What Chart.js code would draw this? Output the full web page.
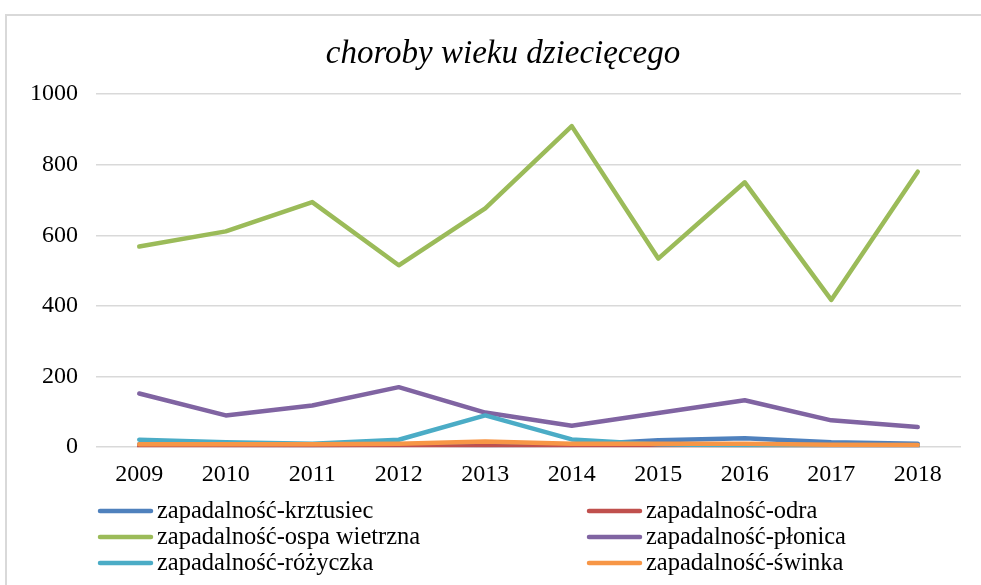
<!DOCTYPE html>
<html>
<head>
<meta charset="utf-8">
<script src="https://cdn.jsdelivr.net/npm/chart.js@4"></script>
<style>
  html, body { margin: 0; padding: 0; background: #fff; overflow: hidden; }
  #frame { position: absolute; left: 5px; top: 14px; width: 1010px; height: 600px; border: 2px solid #d9d9d9; }
  #wrap { position: absolute; left: 0; top: 0; width: 1006px; height: 585px; }
</style>
</head>
<body>
<div id="frame"></div>
<div id="wrap"><canvas id="chart" width="1006" height="585"></canvas></div>
<script>
const chartTitle = 'choroby wieku dziecięcego';
const years = ['2009', '2010', '2011', '2012', '2013', '2014', '2015', '2016', '2017', '2018'];
const krztusiec = [8, 6, 5, 8, 5, 6, 20, 25, 14, 10];
const odra = [1, 0.5, 1, 0.5, 3, 0.5, 0.5, 0.5, 0.5, 0.3];
const ospa = [568, 611, 694, 515, 676, 909, 534, 750, 417, 780];
const plonica = [152, 90, 118, 170, 98, 61, 97, 133, 76, 57];
const rozyczka = [21, 14, 10, 21, 90, 22, 8, 5, 4, 3];
const swinka = [8, 8, 8, 10, 16, 10, 10, 10, 7, 6];
const yTicks = [0, 200, 400, 600, 800, 1000];

const serif = '"Liberation Serif", "Times New Roman", serif';

function series(label, data, color, order) {
  return {
    label: label,
    data: data,
    borderColor: color,
    backgroundColor: color,
    borderWidth: 4.5,
    pointRadius: 0,
    tension: 0,
    borderCapStyle: 'round',
    borderJoinStyle: 'round',
    order: order,
  };
}

// title centred on the whole chart frame, not on the plot
const frameTitle = {
  id: 'frameTitle',
  afterDraw(chart) {
    const ctx = chart.ctx;
    ctx.save();
    ctx.font = 'italic 33px ' + serif;
    ctx.fillStyle = '#000';
    ctx.textAlign = 'center';
    ctx.textBaseline = 'middle';
    ctx.fillText(chartTitle, 503, 54);
    ctx.restore();
  },
};

// two-column legend under the plot, like the spreadsheet one
const gridLegend = {
  id: 'gridLegend',
  afterDraw(chart) {
    const ctx = chart.ctx;
    const cols = [98, 587];
    const rows = [511, 537, 563];
    ctx.save();
    ctx.font = '24.5px ' + serif;
    ctx.textBaseline = 'middle';
    chart.data.datasets.forEach((ds, i) => {
      const x = cols[i % 2];
      const y = rows[Math.floor(i / 2)];
      ctx.strokeStyle = ds.borderColor;
      ctx.lineWidth = 4.5;
      ctx.lineCap = 'round';
      ctx.beginPath();
      ctx.moveTo(x + 2, y);
      ctx.lineTo(x + 53, y);
      ctx.stroke();
      ctx.fillStyle = '#000';
      ctx.fillText(ds.label, x + 59, y + 1);
    });
    ctx.restore();
  },
};

new Chart(document.getElementById('chart'), {
  type: 'line',
  data: {
    labels: years,
    datasets: [
      series('zapadalność-krztusiec', krztusiec, '#4F81BD', 6),
      series('zapadalność-odra', odra, '#C0504D', 5),
      series('zapadalność-ospa wietrzna', ospa, '#9BBB59', 4),
      series('zapadalność-płonica', plonica, '#8064A2', 3),
      series('zapadalność-różyczka', rozyczka, '#4BACC6', 2),
      series('zapadalność-świnka', swinka, '#F79646', 1),
    ],
  },
  options: {
    responsive: false,
    animation: false,
    layout: { padding: { left: 0, right: 45, top: 94, bottom: 91 } },
    scales: {
      x: {
        offset: true,
        grid: { display: false },
        border: { display: false },
        ticks: { color: '#000', font: { family: serif, size: 24 }, padding: 5, maxRotation: 0 },
      },
      y: {
        min: 0,
        max: 1000,
        afterBuildTicks: (scale) => { scale.ticks = yTicks.map((v) => ({ value: v })); },
        afterFit: (scale) => { scale.width = 96; },
        grid: { color: '#d9d9d9', lineWidth: 1.5, drawTicks: false },
        border: { display: false },
        ticks: { color: '#000', font: { family: serif, size: 24 }, padding: 18, callback: (v) => String(v) },
      },
    },
    plugins: {
      legend: { display: false },
      tooltip: { enabled: false },
      title: { display: false },
    },
  },
  plugins: [frameTitle, gridLegend],
});
</script>
</body>
</html>
